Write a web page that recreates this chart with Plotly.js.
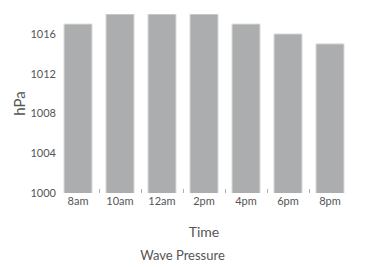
<!DOCTYPE html>
<html><head><meta charset="utf-8">
<script src="https://cdn.plot.ly/plotly-3.0.1.min.js"></script>
<style>body{margin:0}</style>
</head><body>
<div id="chart" style="width:365px;height:267px"></div>
<script>
const categories = ["8am","10am","12am","2pm","4pm","6pm","8pm"];
const pressure = [1017,1018,1018,1018,1017,1016,1015];
const yTicks = [1000,1004,1008,1012,1016];

const font = "Lato, 'Open Sans', sans-serif";
Plotly.newPlot("chart", [{
  type: "bar",
  x: categories,
  y: pressure,
  marker: {color: "#acadae", line: {color: "#e2e2e2", width: 1}},
  hoverinfo: "none"
}], {
  width: 365, height: 267,
  margin: {l: 57, r: 14, t: 14, b: 74},
  bargap: 0.33,
  paper_bgcolor: "#fff", plot_bgcolor: "#fff",
  font: {family: font, color: "#444"},
  showlegend: false,
  title: {text: "Wave Pressure", font: {family: font, size: 13, color: "#555"}, x: 0.5, xanchor: "center", y: 0.045, yanchor: "middle", yref: "container"},
  xaxis: {
    type: "category",
    showgrid: false, zeroline: false, showline: false,
    tickson: "boundaries", ticks: "inside", ticklen: 4, tickcolor: "#b0b0b0", tickwidth: 1,
    tickfont: {size: 11, color: "#555"},
    title: {text: "Time", font: {size: 14, color: "#555"}, standoff: 21}
  },
  yaxis: {
    range: [1000, 1018],
    tickvals: yTicks,
    showgrid: false, zeroline: false, showline: false,
    ticks: "", tickfont: {size: 11, color: "#555"},
    title: {text: "hPa", font: {size: 15, color: "#555"}, standoff: 1}
  }
}, {displayModeBar: false, staticPlot: true});
</script>
</body></html>
